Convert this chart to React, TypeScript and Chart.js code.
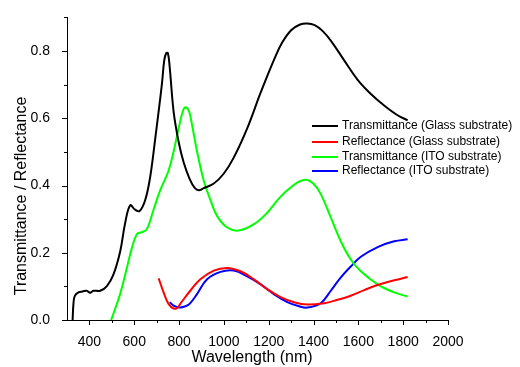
import React, { useEffect, useRef } from "react";
import { Chart, registerables } from "chart.js";

Chart.register(...registerables);

const glassTWl = [325, 329, 335, 351, 370, 388, 403, 418, 448, 478, 507, 537, 560, 582, 604, 624, 649, 671, 694, 713, 724, 734, 743, 750, 758, 776, 798, 820, 847, 870, 888, 910, 955, 999, 1044, 1104, 1164, 1223, 1260, 1300, 1340, 1372, 1405, 1440, 1477, 1536, 1596, 1656, 1715, 1775, 1820];
const glassT = [0, 0.05, 0.072, 0.082, 0.085, 0.087, 0.081, 0.087, 0.087, 0.101, 0.135, 0.203, 0.29, 0.341, 0.328, 0.324, 0.357, 0.425, 0.541, 0.643, 0.705, 0.773, 0.794, 0.794, 0.754, 0.618, 0.53, 0.47, 0.42, 0.393, 0.386, 0.392, 0.406, 0.435, 0.483, 0.57, 0.676, 0.773, 0.825, 0.862, 0.879, 0.882, 0.877, 0.86, 0.831, 0.773, 0.715, 0.672, 0.638, 0.609, 0.594];

const glassRWl = [709, 731, 753, 776, 791, 813, 850, 895, 955, 1015, 1074, 1134, 1193, 1253, 1313, 1372, 1447, 1507, 1566, 1626, 1686, 1760, 1820];
const glassR = [0.124, 0.082, 0.048, 0.034, 0.036, 0.055, 0.087, 0.121, 0.147, 0.155, 0.145, 0.121, 0.092, 0.068, 0.053, 0.046, 0.05, 0.06, 0.072, 0.089, 0.104, 0.118, 0.128];

const itoTWl = [497, 537, 567, 589, 612, 634, 657, 686, 716, 753, 776, 798, 818, 830, 845, 858, 880, 910, 940, 970, 1015, 1066, 1134, 1193, 1253, 1313, 1340, 1369, 1400, 1432, 1477, 1521, 1566, 1611, 1686, 1760, 1820];
const itoT = [0, 0.077, 0.155, 0.213, 0.256, 0.261, 0.271, 0.328, 0.386, 0.444, 0.502, 0.57, 0.623, 0.633, 0.62, 0.58, 0.502, 0.415, 0.357, 0.309, 0.275, 0.266, 0.285, 0.319, 0.367, 0.402, 0.413, 0.417, 0.405, 0.375, 0.305, 0.235, 0.18, 0.145, 0.106, 0.082, 0.07];

const itoRWl = [758, 776, 798, 828, 847, 880, 925, 985, 1044, 1104, 1164, 1223, 1283, 1335, 1372, 1432, 1477, 1521, 1566, 1611, 1686, 1760, 1820];
const itoR = [0.053, 0.043, 0.037, 0.041, 0.048, 0.077, 0.121, 0.143, 0.147, 0.13, 0.106, 0.077, 0.053, 0.041, 0.037, 0.05, 0.087, 0.126, 0.159, 0.188, 0.217, 0.234, 0.24];

const seriesLabels = [
  "Transmittance (Glass substrate)",
  "Reflectance (Glass substrate)",
  "Transmittance (ITO substrate)",
  "Reflectance (ITO substrate)",
];
const seriesColors = ["#000000", "#ff0000", "#00ff00", "#0000ff"];

const xTitle = "Wavelength (nm)";
const yTitle = "Transmittance / Reflectance";

const FONT = '"Liberation Sans", Arial, sans-serif';

const pts = (xs: number[], ys: number[]) => xs.map((x, i) => ({ x, y: ys[i] }));

const decorPlugin = {
  id: "decor",
  afterDraw(chart: any) {
    const ctx = chart.ctx;
    const xs = chart.scales.x;
    const ys = chart.scales.y;
    const area = chart.chartArea;
    ctx.save();
    ctx.strokeStyle = "#000";
    ctx.lineWidth = 1;
    xs.ticks.forEach((t: any) => {
      const v = t.value;
      if (v <= xs.min) return;
      const major = Math.round(v) % 200 === 0;
      const px = Math.round(xs.getPixelForValue(v)) + 0.5;
      ctx.beginPath();
      ctx.moveTo(px, area.bottom);
      ctx.lineTo(px, area.bottom + (major ? 5 : 3));
      ctx.stroke();
    });
    ys.ticks.forEach((t: any) => {
      const v = t.value;
      const major = Math.round(v * 10) % 2 === 0;
      const py = Math.round(ys.getPixelForValue(v)) + 0.5;
      ctx.beginPath();
      ctx.moveTo(area.left, py);
      ctx.lineTo(area.left - (major ? 5 : 3), py);
      ctx.stroke();
    });
    ctx.fillStyle = "#000";
    ctx.font = `16px ${FONT}`;
    ctx.textAlign = "center";
    ctx.textBaseline = "middle";
    ctx.fillText(xTitle, 252, 358);
    ctx.save();
    ctx.translate(22, 196);
    ctx.rotate(-Math.PI / 2);
    ctx.fillText(yTitle, 0, 0);
    ctx.restore();
    ctx.font = `12px ${FONT}`;
    ctx.textAlign = "left";
    const rows = [126, 142, 157, 171];
    chart.data.datasets.forEach((ds: any, i: number) => {
      const y = rows[i];
      ctx.strokeStyle = ds.borderColor;
      ctx.lineWidth = 2;
      ctx.beginPath();
      ctx.moveTo(312, y);
      ctx.lineTo(338, y);
      ctx.stroke();
      ctx.fillStyle = "#000";
      ctx.fillText(ds.label, 342, y);
    });
    ctx.restore();
  },
};

export default function App() {
  const ref = useRef<HTMLCanvasElement | null>(null);
  useEffect(() => {
    document.body.style.margin = "0";
    const cvs = ref.current;
    if (!cvs) return;
    const sets = [
      pts(glassTWl, glassT),
      pts(glassRWl, glassR),
      pts(itoTWl, itoT),
      pts(itoRWl, itoR),
    ];
    const chart = new Chart(cvs, {
      type: "line",
      data: {
        datasets: sets.map((d, i) => ({
          label: seriesLabels[i],
          data: d,
          borderColor: seriesColors[i],
          backgroundColor: seriesColors[i],
          borderWidth: 2,
          pointRadius: 0,
          tension: 0.4,
          fill: false,
        })),
      },
      options: {
        responsive: false,
        animation: false,
        layout: { padding: { left: 0, top: 10, right: 72, bottom: 0 } },
        plugins: { legend: { display: false }, tooltip: { enabled: false } },
        scales: {
          x: {
            type: "linear",
            min: 300,
            max: 2000,
            afterFit: (s: any) => {
              s.height = 47;
            },
            grid: { display: false },
            border: { display: true, color: "#000", width: 1 },
            ticks: {
              stepSize: 100,
              autoSkip: false,
              maxRotation: 0,
              padding: 6,
              color: "#000",
              font: { family: FONT, size: 14 },
              callback: (v: any) => {
                const n = Math.round(Number(v));
                return n % 200 === 0 && n >= 400 ? String(n) : "";
              },
            },
          },
          y: {
            type: "linear",
            min: 0,
            max: 0.9,
            afterFit: (s: any) => {
              s.width = 67;
            },
            grid: { display: false },
            border: { display: true, color: "#000", width: 1 },
            ticks: {
              stepSize: 0.1,
              autoSkip: false,
              padding: 9,
              color: "#000",
              font: { family: FONT, size: 14 },
              callback: (v: any) => {
                const n = Math.round(Number(v) * 10);
                return n % 2 === 0 && n <= 8 ? (n / 10).toFixed(1) : "";
              },
            },
          },
        },
      },
      plugins: [decorPlugin],
    });
    return () => chart.destroy();
  }, []);
  return <canvas ref={ref} width={520} height={367} style={{ display: "block" }} />;
}
